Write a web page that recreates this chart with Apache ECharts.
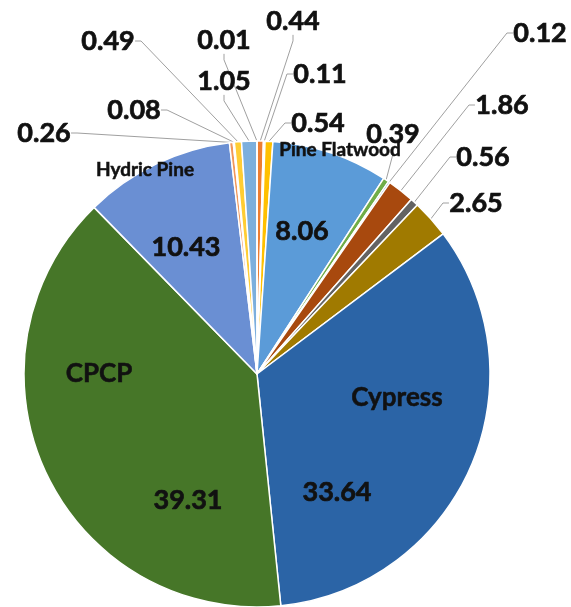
<!DOCTYPE html>
<html>
<head>
<meta charset="utf-8">
<script src="https://cdn.jsdelivr.net/npm/echarts@6/dist/echarts.min.js"></script>
<style>
html, body { margin: 0; padding: 0; background: #fff; }
#main { width: 571px; height: 607px; }
</style>
</head>
<body>
<div id="main"></div>
<script>
// slices, clockwise from 12 o'clock
var names = ['', '', '', 'Pine Flatwood', '', '', '', '', '', 'Cypress', 'CPCP', 'Hydric Pine', '', '', '', '', ''];
var values = [0.44, 0.11, 0.54, 8.06, 0.39, 0.12, 1.86, 0.56, 2.65, 33.64, 39.31, 10.43, 0.26, 0.08, 0.49, 1.05, 0.01];

var colors = ['#ED7D31', '#A5A5A5', '#FFC000', '#5B9BD8', '#70AD47', '#255E91', '#A8490E', '#636363',
  '#A07A00', '#2B64A6', '#467628', '#6A8FD3', '#F1975A', '#B7B7B7', '#FFCD33', '#7CAFDD', '#8CC168'];
// label spots (text centres)
var valuePos = [[293, 21], [320, 74], [318, 123], [302, 231], [393, 134], [540, 33], [502, 105], [483, 157],
  [476, 203], [337, 492], [188, 500], [186, 247], [44, 133], [134, 110], [108, 41], [224, 81], [224, 40]];
var namePos = { 3: [340, 150], 9: [397, 398], 10: [99, 374], 11: [145, 170] };
var inside = [3, 9, 10, 11];

var center = [257, 374];
var radius = 233;

var chart = echarts.init(document.getElementById('main'));

var valueData = values.map(function (v, i) {
  var inn = inside.indexOf(i) >= 0;
  return {
    value: v,
    name: names[i],
    itemStyle: { color: colors[i] },
    label: { position: inn ? 'inside' : 'outside' },
    labelLine: { show: !inn }
  };
});

var nameData = values.map(function (v, i) {
  return {
    value: v,
    name: names[i],
    label: { show: names[i] !== '', fontSize: (i == 3 || i == 11) ? 19 : 26 }
  };
});

var option = {
  backgroundColor: '#fff',
  animation: false,
  series: [
    {
      type: 'pie',
      center: center,
      radius: radius,
      startAngle: 90,
      clockwise: true,
      avoidLabelOverlap: false,
      itemStyle: { borderColor: '#fff', borderWidth: 1.5 },
      label: {
        show: true,
        formatter: '{c}',
        fontFamily: 'Lato',
        fontWeight: 'bold',
        fontSize: 27,
        color: '#111',
        textBorderColor: '#111',
        textBorderWidth: 0.7
      },
      labelLine: {
        show: true,
        length: 10,
        length2: 6,
        lineStyle: { color: '#a0a0a0', width: 1 }
      },
      labelLayout: function (p) {
        var q = valuePos[p.dataIndex];
        return { x: q[0], y: q[1], align: 'center', verticalAlign: 'middle' };
      },
      data: valueData
    },
    {
      // category names for the big slices
      type: 'pie',
      center: center,
      radius: radius,
      startAngle: 90,
      clockwise: true,
      silent: true,
      avoidLabelOverlap: false,
      itemStyle: { color: 'rgba(0,0,0,0)', borderWidth: 0 },
      label: {
        position: 'inside',
        formatter: '{b}',
        fontFamily: 'Lato',
        fontWeight: 'bold',
        color: '#111',
        textBorderColor: '#111',
        textBorderWidth: 0.5
      },
      labelLine: { show: false },
      labelLayout: function (p) {
        var q = namePos[p.dataIndex];
        if (!q) return {};
        return { x: q[0], y: q[1], align: 'center', verticalAlign: 'middle' };
      },
      data: nameData
    }
  ]
};

chart.setOption(option);
</script>
</body>
</html>
